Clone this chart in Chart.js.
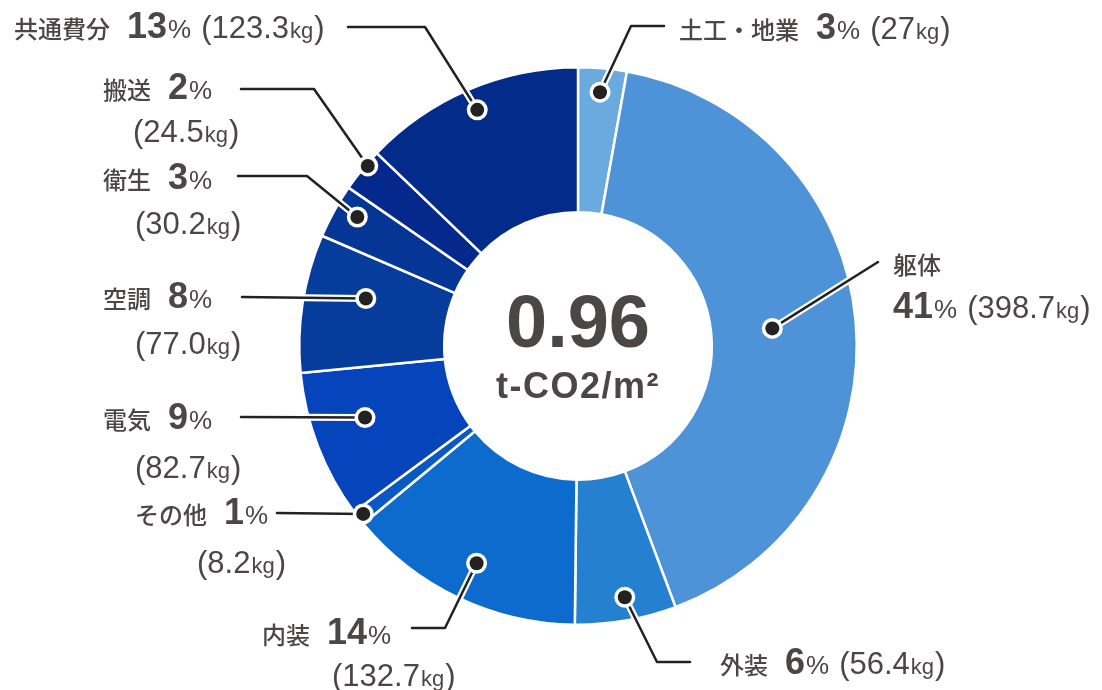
<!DOCTYPE html>
<html>
<head>
<meta charset="utf-8">
<script src="https://cdn.jsdelivr.net/npm/chart.js@4.4.1/dist/chart.umd.min.js"></script>
<style>
  html, body { margin:0; padding:0; background:#fff; }
  #wrap { width:1102px; height:690px; }
</style>
</head>
<body>
<div id="wrap"><canvas id="co2Chart" width="1102" height="690"></canvas></div>
<script>
// data
const categories = ["土工・地業","躯体","外装","内装","その他","電気","空調","衛生","搬送","共通費分"]
const valuesKg = [27, 398.7, 56.4, 132.7, 8.2, 82.7, 77.0, 30.2, 24.5, 123.3]
const percentLabels = ["3","41","6","14","1","9","8","3","2","13"]
const valueLabels = ["27","398.7","56.4","132.7","8.2","82.7","77.0","30.2","24.5","123.3"]
const centerValue = "0.96"
const centerUnit = "t-CO2/m²"

// styles
const sliceColors = ["#6aaadf","#4e93d8","#2580cf","#0c6bcd","#0a58c3","#0544ba","#063d9d","#053696","#04288c","#032b8a"]
const textColor = "#4b4747"
const latin = '"Liberation Sans", Arial, sans-serif'
const cjk = '"Noto Sans CJK JP", sans-serif'

// label layout: t = position inside slice (0..1), r = fraction of outer radius,
// path = leader points from the label toward the dot, lines = text lines
const labelLayout = [
    {t:0.49, r:0.914, path:[[664,26],[631,26]], lines:[{x:679,y:28,parts:["name","pct","val"]}]},
    {t:0.50, r:0.70,  path:[[878,262]], lines:[{x:893,y:263,parts:["name"]},{x:893,y:307,parts:["pct","val"]}]},
    {t:0.47, r:0.917, path:[[690,662],[657,662]], lines:[{x:720,y:663,parts:["name","pct","val"]}]},
    {t:0.49, r:0.86,  path:[[412,628],[445,628]], lines:[{x:262,y:633,parts:["name","pct"]},{x:332,y:675,parts:["val"]}]},
    {t:0.52, r:0.978, path:[[277,513]], lines:[{x:135,y:513,parts:["name","pct"]},{x:197,y:562,parts:["val"]}]},
    {t:0.58, r:0.806, path:[[241,417]], lines:[{x:103,y:418,parts:["name","pct"]},{x:135,y:467,parts:["val"]}]},
    {t:0.63, r:0.78,  path:[[242,297]], lines:[{x:103,y:297,parts:["name","pct"]},{x:135,y:343,parts:["val"]}]},
    {t:0.62, r:0.917, path:[[238,176],[307,176]], lines:[{x:103,y:178,parts:["name","pct"]},{x:135,y:223,parts:["val"]}]},
    {t:0.65, r:0.993, path:[[241,89],[314,89]], lines:[{x:103,y:88,parts:["name","pct"]},{x:133,y:131,parts:["val"]}]},
    {t:0.50, r:0.921, path:[[348,27],[425,27]], lines:[{x:14,y:27,parts:["name","pct","val"]}]}
]

function runsFor(part, i){
    if(part === "name") return [{text:categories[i], font:"500 24px " + cjk, gap:17}]
    if(part === "pct") return [
        {text:percentLabels[i], font:"700 36px " + latin, gap:1},
        {text:"%", font:"400 26px " + latin, gap:10}
    ]
    return [
        {text:"(" + valueLabels[i], font:"400 31px " + latin, gap:1},
        {text:"kg", font:"400 22px " + latin, gap:1},
        {text:")", font:"400 31px " + latin, gap:0}
    ]
}

const labelPlugin = {
    id:"labelPlugin",
    afterDraw(chart){
        const ctx = chart.ctx
        const arcs = chart.getDatasetMeta(0).data
        ctx.save()

        // center text
        const cx = arcs[0].x, cy = arcs[0].y
        ctx.fillStyle = textColor
        ctx.textAlign = "center"
        ctx.textBaseline = "alphabetic"
        ctx.font = "700 74px " + latin
        ctx.fillText(centerValue, cx, cy + 1)
        ctx.font = "700 36px " + latin
        ctx.letterSpacing = "1.5px"
        ctx.fillText(centerUnit, cx, cy + 52)
        ctx.letterSpacing = "0px"

        arcs.forEach((arc, i) => {
            const lay = labelLayout[i]
            const p = arc.getProps(["x","y","startAngle","endAngle","outerRadius"], true)
            const a = p.startAngle + (p.endAngle - p.startAngle) * lay.t
            const dx = p.x + Math.cos(a) * p.outerRadius * lay.r
            const dy = p.y + Math.sin(a) * p.outerRadius * lay.r
            const pts = lay.path.concat([[dx, dy]])

            // leader line with white halo
            ctx.lineJoin = "round"
            ctx.lineCap = "round"
            ;[["#ffffff", 7],["#222222", 2.5]].forEach(([c, w]) => {
                ctx.strokeStyle = c
                ctx.lineWidth = w
                ctx.beginPath()
                pts.forEach((pt, k) => k ? ctx.lineTo(pt[0], pt[1]) : ctx.moveTo(pt[0], pt[1]))
                ctx.stroke()
            })
            ctx.fillStyle = "#ffffff"
            ctx.beginPath(); ctx.arc(dx, dy, 10.5, 0, Math.PI*2); ctx.fill()
            ctx.fillStyle = "#222222"
            ctx.beginPath(); ctx.arc(dx, dy, 7, 0, Math.PI*2); ctx.fill()

            // label text
            ctx.textAlign = "left"
            ctx.fillStyle = textColor
            lay.lines.forEach(line => {
                let x = line.x
                const base = line.y + 11
                line.parts.forEach(part => {
                    runsFor(part, i).forEach(run => {
                        ctx.font = run.font
                        ctx.fillText(run.text, x, base)
                        x += ctx.measureText(run.text).width + run.gap
                    })
                })
            })
        })
        ctx.restore()
    }
}

const co2Chart =
new Chart(document.getElementById("co2Chart"), {

    type:"doughnut",

    data:{
        labels:categories,
        datasets:[{
            data:valuesKg,
            backgroundColor:sliceColors,
            borderColor:"#ffffff",
            borderWidth:2.5
        }]
    },

    options:{
        responsive:false,
        animation:false,
        cutout:"48%",
        layout:{ padding:{ left:298, right:244, top:65, bottom:63 } },
        plugins:{
            legend:{ display:false },
            tooltip:{ enabled:false }
        }
    },

    plugins:[labelPlugin]
})
</script>
</body>
</html>
